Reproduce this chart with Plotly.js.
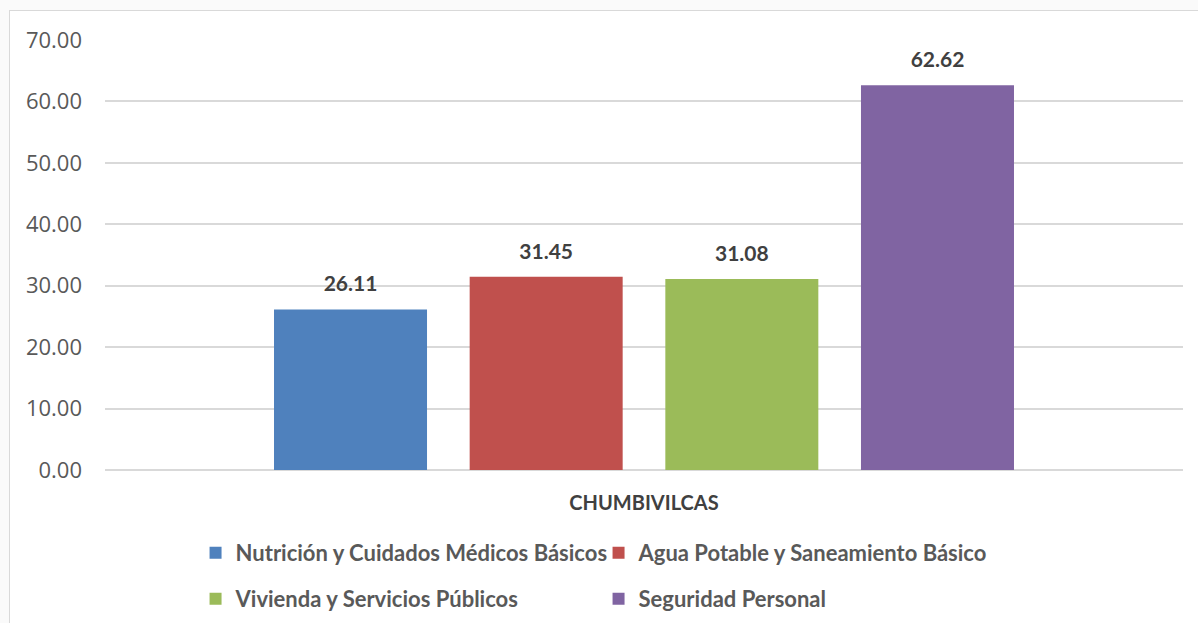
<!DOCTYPE html>
<html>
<head>
<meta charset="utf-8">
<script src="https://cdn.plot.ly/plotly-3.0.1.min.js"></script>
<style>
html,body{margin:0;padding:0;background:#fafafa;width:1198px;height:623px;overflow:hidden;}
#chart{position:absolute;left:9px;top:10px;width:1189px;height:613px;border-top:1px solid #d9d9d9;border-left:1px solid #d9d9d9;background:#fff;}
</style>
</head>
<body>
<div id="chart"></div>
<script>
const categories = ["CHUMBIVILCAS"];
const seriesNames = [
  "Nutrición y Cuidados Médicos Básicos",
  "Agua Potable y Saneamiento Básico",
  "Vivienda y Servicios Públicos",
  "Seguridad Personal"
];
const nutricion = [26.11];
const agua = [31.45];
const vivienda = [31.08];
const seguridad = [62.62];
const seriesValues = [nutricion, agua, vivienda, seguridad];
const seriesColors = ["#4F81BD", "#C0504D", "#9BBB59", "#8064A2"];
const yTicks = [0, 10, 20, 30, 40, 50, 60, 70];

const boldFont = "Lato, Roboto, sans-serif";

const barTraces = seriesNames.map((name, i) => ({
  type: 'bar',
  name: name,
  x: categories,
  y: seriesValues[i],
  marker: {color: seriesColors[i]},
  hoverinfo: 'skip',
  legend: i < 2 ? 'legend' : 'legend2'
}));

// value labels, grouped at the same positions as the bars
const labelTraces = seriesNames.map((name, i) => ({
  type: 'scatter',
  mode: 'markers+text',
  x: categories,
  y: seriesValues[i],
  text: seriesValues[i].map(v => v.toFixed(2)),
  textposition: 'top center',
  textfont: {family: boldFont, size: 21, weight: 'bold', color: '#404040'},
  marker: {size: 19, color: 'rgba(0,0,0,0)'},
  cliponaxis: false,
  showlegend: false,
  hoverinfo: 'skip'
}));

const legendCommon = {
  orientation: 'h',
  xanchor: 'left',
  yanchor: 'middle',
  entrywidth: 358,
  itemwidth: 30,
  font: {family: boldFont, size: 22, weight: 'bold', color: '#595959'},
  bgcolor: 'rgba(0,0,0,0)',
  traceorder: 'normal'
};

const layout = {
  width: 1189,
  height: 613,
  margin: {l: 95, r: 16, t: 29, b: 154, autoexpand: false},
  paper_bgcolor: '#ffffff',
  plot_bgcolor: '#ffffff',
  barmode: 'group',
  bargap: 0.274,
  bargroupgap: 0.218,
  scattermode: 'group',
  scattergap: 0.274,
  showlegend: true,
  xaxis: {
    type: 'category',
    automargin: false,
    showgrid: false,
    showline: false,
    zeroline: false,
    ticks: '',
    ticklabelstandoff: 19,
    tickfont: {family: boldFont, size: 20, weight: 'bold', color: '#404040'}
  },
  yaxis: {
    automargin: false,
    range: [0, 70],
    tickvals: yTicks,
    ticktext: yTicks.map(v => v.toFixed(2)),
    showgrid: true,
    gridcolor: '#d9d9d9',
    gridwidth: 2,
    zeroline: true,
    zerolinecolor: '#d9d9d9',
    zerolinewidth: 2,
    showline: false,
    ticks: '',
    ticklabelstandoff: 22,
    tickfont: {family: "'Open Sans', 'Noto Sans', sans-serif", size: 22, color: '#595959'}
  },
  legend: Object.assign({x: 0.084, y: -0.193}, legendCommon),
  legend2: Object.assign({x: 0.084, y: -0.3}, legendCommon)
};

Plotly.newPlot('chart', barTraces.concat(labelTraces), layout, {displayModeBar: false, staticPlot: true});
</script>
</body>
</html>
